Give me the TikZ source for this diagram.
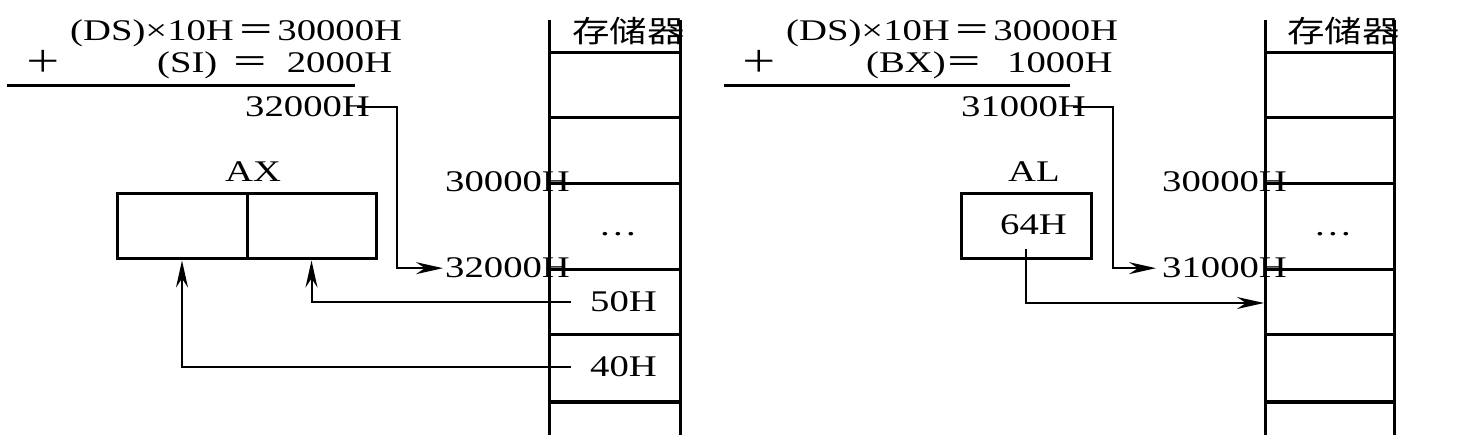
\documentclass[tikz,border=0pt]{standalone}
\usepackage{fontspec}
\setmainfont{Liberation Serif}[FakeStretch=1.29]
\newfontfamily\cjk{Noto Sans CJK SC}[FakeStretch=1.25]
\usetikzlibrary{arrows.meta}
\begin{document}
\begin{tikzpicture}[x=1pt,y=-1pt,
  txt/.style={inner sep=0pt, anchor=base west, font=\fontsize{30}{36}\selectfont},
  ctxt/.style={inner sep=0pt, anchor=base, font=\fontsize{30}{36}\selectfont},
  memline/.style={line width=3pt},
  regbox/.style={draw, line width=3pt, inner sep=0pt, minimum height=65pt},
  conn/.style={line width=2pt},
  arr/.style={line width=2pt, -{Stealth[length=27pt,width=12pt,inset=9pt]}},
  rule/.style={line width=3pt}]
\useasboundingbox (0,0) rectangle (1475,443);

% ---------------- left diagram ----------------
\node[txt] (f1) at (70,41) {(DS)×10H\hspace{4pt}{\cjk ＝}\hspace{2pt}30000H};
\node[txt] (p1) at (24,73) {{\cjk ＋}};
\node[txt] (f2) at (157,73) {(SI)\hspace{14pt}{\cjk ＝}\hspace{18pt}2000H};
\coordinate (r1a) at (7,86);
\coordinate (r1b) at (355,86);
\draw[rule] (r1a) -- (r1b);
\node[txt] (s32) at (245,117) {32000H};

\node[txt] (ax) at (225,182) {AX};
\node[regbox, minimum width=130pt] (axl) at (182,226.5) {};
\node[regbox, minimum width=129pt] (axr) at (311.5,226.5) {};

% memory column
\foreach \x in {549,680} \draw[memline] (\x,20) -- (\x,435);
\foreach \y in {53,118,184,270,335,402} \draw[memline] (549,\y) -- (680,\y);
\node[txt] (memL) at (572,43) {\cjk 存储器};
\node[txt] (m30) at (445,192) {30000H};
\node[ctxt] (dotsL) at (618,236) {…};
\node[txt] (m32) at (445,278) {32000H};
\node[txt] (v50) at (590,312) {50H};
\node[txt] (v40) at (590,377) {40H};

\draw[arr] ([xshift=-13pt]s32.east) -- ++(40,0) |- ([xshift=-2pt]m32.west);
\draw[arr] ([xshift=-19pt]v50.west) -| (axr.south);
\draw[arr] ([xshift=-19pt]v40.west) -| (axl.south);

% ---------------- right diagram ----------------
\node[txt] (g1) at (786,41) {(DS)×10H\hspace{4pt}{\cjk ＝}\hspace{2pt}30000H};
\node[txt] (p2) at (740,73) {{\cjk ＋}};
\node[txt] (g2) at (866,73) {(BX)\hspace{0pt}{\cjk ＝}\hspace{24pt}1000H};
\coordinate (r2a) at (724,86);
\coordinate (r2b) at (1070,86);
\draw[rule] (r2a) -- (r2b);
\node[txt] (s31) at (961,117) {31000H};

\node[txt] (al) at (1008,182) {AL};
\node[regbox, minimum width=130pt] (alb) at (1026,226.5) {};
\node[txt] (v64) at (1000,235) {64H};

\foreach \x in {1265,1394} \draw[memline] (\x,20) -- (\x,435);
\foreach \y in {53,118,184,270,335,402} \draw[memline] (1265,\y) -- (1394,\y);
\node[txt] (memR) at (1287,43) {\cjk 存储器};
\node[txt] (n30) at (1162,192) {30000H};
\node[ctxt] (dotsR) at (1333,236) {…};
\node[txt] (n31) at (1162,278) {31000H};

\coordinate (c64) at (1026,249);
\coordinate (mr) at (1264,303);
\draw[arr] ([xshift=-13pt]s31.east) -- ++(40,0) |- ([xshift=-6pt]n31.west);
\draw[arr] (c64) |- (mr);
\end{tikzpicture}
\end{document}
